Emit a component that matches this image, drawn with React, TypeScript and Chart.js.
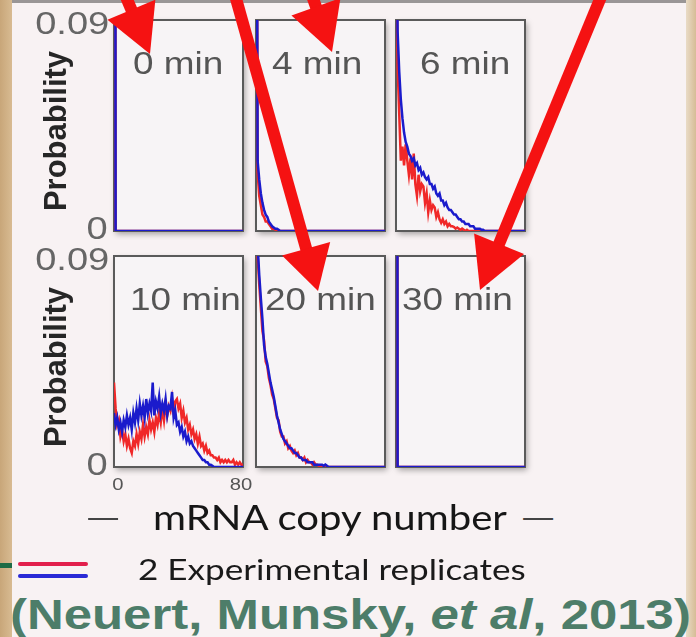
import React, { useEffect, useRef } from "react";
import { Chart, registerables } from "chart.js";

Chart.register(...registerables);

// ---------- data ----------
const panelTitles = ["0 min", "4 min", "6 min", "10 min", "20 min", "30 min"];
const yTickLabels = ["0", "0.09"];
const xTickLabels = ["0", "80"];
const yAxisTitle = "Probability";
const xAxisTitle = "mRNA copy number";
const legendLabel = "2 Experimental replicates";
const yMax = 0.09;
const xMax = 80;

// probability at copy number 0,1,2,... (blue = replicate 1, red = replicate 2)
const blue0min = [0.9, 0];
const red0min = [0.9, 0];

const blue4min = [0.3, 0.03, 0.022, 0.016, 0.012, 0.009, 0.007, 0.006, 0.004, 0.003, 0.002, 0.0015, 0.001, 0.001, 0.0005, 0];
const red4min = [0.3, 0.025, 0.015, 0.011, 0.007, 0.006, 0.004, 0.004, 0.003, 0.002, 0.001, 0.001, 0.0005, 0];

const blue6min = [0.15, 0.085, 0.068, 0.056, 0.048, 0.042, 0.038, 0.036, 0.033, 0.032, 0.03, 0.031, 0.028, 0.029, 0.026, 0.027, 0.024, 0.025, 0.023, 0.022, 0.023, 0.02, 0.02, 0.018, 0.019, 0.016, 0.015, 0.016, 0.013, 0.013, 0.011, 0.012, 0.01, 0.009, 0.009, 0.008, 0.007, 0.007, 0.006, 0.005, 0.005, 0.004, 0.004, 0.003, 0.003, 0.003, 0.002, 0.002, 0.002, 0.001, 0.001, 0.001, 0.001, 0.0005, 0.0005, 0];
const red6min = [0.15, 0.07, 0.05, 0.03, 0.036, 0.028, 0.037, 0.03, 0.024, 0.031, 0.022, 0.033, 0.02, 0.015, 0.024, 0.017, 0.02, 0.019, 0.012, 0.016, 0.008, 0.013, 0.009, 0.011, 0.01, 0.006, 0.008, 0.005, 0.0035, 0.005, 0.003, 0.004, 0.002, 0.003, 0.002, 0.002, 0.0017, 0.001, 0.0015, 0.001, 0.0005, 0.001, 0.0005, 0, 0.0005, 0];

const blue10min = [0.023, 0.018, 0.021, 0.016, 0.019, 0.015, 0.02, 0.017, 0.022, 0.018, 0.021, 0.016, 0.023, 0.019, 0.025, 0.02, 0.027, 0.022, 0.026, 0.021, 0.029, 0.023, 0.027, 0.024, 0.036, 0.022, 0.028, 0.025, 0.03, 0.023, 0.027, 0.024, 0.029, 0.022, 0.026, 0.025, 0.032, 0.021, 0.024, 0.018, 0.019, 0.015, 0.017, 0.013, 0.015, 0.011, 0.013, 0.01, 0.011, 0.009, 0.008, 0.007, 0.006, 0.005, 0.004, 0.003, 0.003, 0.002, 0.002, 0.001, 0.001, 0.0005, 0];
const red10min = [0.036, 0.025, 0.018, 0.02, 0.013, 0.016, 0.011, 0.014, 0.009, 0.012, 0.008, 0.006, 0.011, 0.009, 0.014, 0.01, 0.015, 0.012, 0.018, 0.013, 0.017, 0.014, 0.02, 0.016, 0.019, 0.015, 0.021, 0.018, 0.023, 0.019, 0.025, 0.02, 0.027, 0.022, 0.026, 0.024, 0.029, 0.023, 0.028, 0.029, 0.025, 0.027, 0.021, 0.024, 0.019, 0.021, 0.016, 0.018, 0.014, 0.016, 0.012, 0.014, 0.01, 0.013, 0.009, 0.01, 0.007, 0.009, 0.006, 0.007, 0.005, 0.005, 0.004, 0.004, 0.003, 0.004, 0.002, 0.003, 0.002, 0.003, 0.002, 0.003, 0.002, 0.002, 0.003, 0.001, 0.002, 0.001, 0.002, 0.001, 0.001];

const blue20min = [0.15, 0.095, 0.082, 0.072, 0.063, 0.052, 0.047, 0.044, 0.04, 0.036, 0.033, 0.03, 0.026, 0.022, 0.019, 0.016, 0.014, 0.012, 0.011, 0.01, 0.009, 0.008, 0.008, 0.007, 0.006, 0.006, 0.005, 0.004, 0.004, 0.003, 0.003, 0.003, 0.002, 0.002, 0.002, 0.002, 0.001, 0.001, 0.001, 0.001, 0.001, 0.001, 0.0005, 0.001, 0.0005, 0];
const red20min = [0.15, 0.09, 0.078, 0.068, 0.058, 0.054, 0.045, 0.043, 0.038, 0.035, 0.031, 0.029, 0.025, 0.021, 0.02, 0.015, 0.013, 0.013, 0.01, 0.011, 0.008, 0.009, 0.007, 0.006, 0.007, 0.005, 0.006, 0.004, 0.004, 0.003, 0.004, 0.002, 0.003, 0.002, 0.002, 0.001, 0.002, 0.001, 0.001, 0.0005, 0];

const blue30min = [0.9, 0];
const red30min = [0.9, 0];

const blueSeries = [blue0min, blue4min, blue6min, blue10min, blue20min, blue30min];
const redSeries = [red0min, red4min, red6min, red10min, red20min, red30min];

// ---------- styles ----------
const BLUE = "#1b1bcc";
const RED = "#f02828";
const FRAME = "#5a5a5a";
const PANEL_BG = "#f7f4f6";
const PAD = 9;
const SX = 1.19;

const colX = [114, 256, 396];
const rowY = [20, 256];
const PW = 129;
const PH = 211;
const titleLeft = [133, 272, 420, 130, 265, 402];

const framePlugin = {
  id: "frame",
  beforeDatasetsDraw(chart: any) {
    const { ctx, chartArea: a } = chart;
    ctx.save();
    ctx.shadowColor = "rgba(0,0,0,0.35)";
    ctx.shadowBlur = 6;
    ctx.shadowOffsetX = 2;
    ctx.shadowOffsetY = 3;
    ctx.fillStyle = PANEL_BG;
    ctx.fillRect(a.left, a.top, a.right - a.left, a.bottom - a.top);
    ctx.restore();
    ctx.save();
    ctx.strokeStyle = FRAME;
    ctx.lineWidth = 2;
    ctx.strokeRect(a.left, a.top, a.right - a.left, a.bottom - a.top);
    ctx.restore();
  },
};

function toPoints(arr: number[]) {
  const pts = arr.map((y, i) => ({ x: i, y }));
  if (arr.length - 1 < xMax) pts.push({ x: xMax, y: 0 });
  return pts;
}

function Panel({ left, top, blue, red }: { left: number; top: number; blue: number[]; red: number[] }) {
  const ref = useRef<HTMLCanvasElement>(null);
  useEffect(() => {
    const chart = new Chart(ref.current as HTMLCanvasElement, {
      type: "line",
      data: {
        datasets: [
          { label: "Replicate 1", data: toPoints(blue), borderColor: BLUE, borderWidth: 2.5, pointRadius: 0, tension: 0 },
          { label: "Replicate 2", data: toPoints(red), borderColor: RED, borderWidth: 2.5, pointRadius: 0, tension: 0 },
        ],
      },
      options: {
        responsive: false,
        animation: false,
        events: [],
        layout: { padding: PAD },
        plugins: { legend: { display: false }, tooltip: { enabled: false } },
        scales: {
          x: { type: "linear", min: 0, max: xMax, display: false },
          y: { type: "linear", min: 0, max: yMax, display: false },
        },
      },
      plugins: [framePlugin],
    } as any);
    return () => chart.destroy();
  }, []);
  return (
    <canvas
      ref={ref}
      width={PW + 2 * PAD}
      height={PH + 2 * PAD}
      style={{ position: "absolute", left: left - PAD, top: top - PAD, zIndex: 2 }}
    />
  );
}

type TProps = {
  x: number;
  y: number;
  anchor?: "left" | "right" | "center";
  size: number;
  color: string;
  weight?: number | string;
  family?: string;
  sx?: number;
  children: React.ReactNode;
};

function T({ x, y, anchor = "left", size, color, weight = 400, family = "'Liberation Sans', Arial, sans-serif", sx = SX, children }: TProps) {
  const style: React.CSSProperties = {
    position: "absolute",
    top: y,
    fontSize: size,
    lineHeight: 1,
    color,
    fontWeight: weight as any,
    fontFamily: family,
    whiteSpace: "nowrap",
    zIndex: 3,
  };
  if (anchor === "left") {
    style.left = x;
    style.transformOrigin = "left center";
    style.transform = `translate(0,-50%) scaleX(${sx})`;
  } else if (anchor === "right") {
    style.right = 696 - x;
    style.transformOrigin = "right center";
    style.transform = `translate(0,-50%) scaleX(${sx})`;
  } else {
    style.left = x;
    style.transformOrigin = "center center";
    style.transform = `translate(-50%,-50%) scaleX(${sx})`;
  }
  return <div style={style}>{children}</div>;
}

// arrows (annotation overlay): start point, tip, head length, head width
const arrows = [
  { sx: 92, sy: -84, tx: 150, ty: 54, hl: 48, hw: 52 },
  { sx: 228, sy: -30, tx: 318, ty: 291, hl: 44, hw: 50 },
  { sx: 282, sy: -89, tx: 332, ty: 52, hl: 48, hw: 52 },
  { sx: 610, sy: -25, tx: 480, ty: 290, hl: 50, hw: 54 },
];

function Arrow({ a }: { a: (typeof arrows)[number] }) {
  const dx = a.tx - a.sx;
  const dy = a.ty - a.sy;
  const len = Math.hypot(dx, dy);
  const ux = dx / len;
  const uy = dy / len;
  const bx = a.tx - ux * a.hl;
  const by = a.ty - uy * a.hl;
  const px = -uy * (a.hw / 2);
  const py = ux * (a.hw / 2);
  const pts = `${a.tx},${a.ty} ${bx + px},${by + py} ${bx - px},${by - py}`;
  return (
    <g>
      <line x1={a.sx} y1={a.sy} x2={bx + ux * 4} y2={by + uy * 4} stroke="#f51212" strokeWidth={12} />
      <polygon points={pts} fill="#f51212" />
    </g>
  );
}

export default function App() {
  const panels = [0, 1, 2, 3, 4, 5].map((i) => ({
    left: colX[i % 3],
    top: rowY[Math.floor(i / 3)],
    title: panelTitles[i],
    blue: blueSeries[i],
    red: redSeries[i],
  }));
  return (
    <div
      style={{
        position: "fixed",
        left: 0,
        top: 0,
        width: 696,
        height: 637,
        overflow: "hidden",
        background: "#f8f2f3",
      }}
    >
      {/* slide edges */}
      <div style={{ position: "absolute", left: 0, top: 0, width: 12, height: 637, background: "linear-gradient(90deg,#c8a679,#d8bb92)" }} />
      <div style={{ position: "absolute", left: 686, top: 0, width: 10, height: 637, background: "linear-gradient(90deg,#e9dbc6,#d6bc96)" }} />
      <div style={{ position: "absolute", left: 12, top: 0, width: 674, height: 3, background: "#9a9696" }} />

      {panels.map((p, i) => (
        <Panel key={i} left={p.left} top={p.top} blue={p.blue} red={p.red} />
      ))}

      {panels.map((p, i) => (
        <T key={"t" + i} x={titleLeft[i]} y={p.top + 43} size={31} color="#555">
          {p.title}
        </T>
      ))}

      {rowY.map((ry, r) => (
        <React.Fragment key={"y" + r}>
          <T x={109} y={ry + 3} anchor="right" size={32} color="#666">
            {yTickLabels[1]}
          </T>
          <T x={108} y={ry + PH - 3} anchor="right" size={32} color="#666">
            {yTickLabels[0]}
          </T>
          <div
            style={{
              position: "absolute",
              left: 55,
              top: ry + 111,
              transform: "translate(-50%,-50%) rotate(-90deg)",
              fontFamily: "'Liberation Sans', Arial, sans-serif",
              fontWeight: 700,
              fontSize: 31,
              lineHeight: 1,
              color: "#262626",
              whiteSpace: "nowrap",
              zIndex: 3,
            }}
          >
            {yAxisTitle}
          </div>
        </React.Fragment>
      ))}

      <T x={118} y={484} anchor="center" size={17} color="#555">
        {xTickLabels[0]}
      </T>
      <T x={241} y={484} anchor="center" size={17} color="#555">
        {xTickLabels[1]}
      </T>

      <T x={103} y={516} anchor="center" size={30} color="#444" family="Lato, sans-serif" sx={1.5}>
        —
      </T>
      <T x={538} y={516} anchor="center" size={30} color="#444" family="Lato, sans-serif" sx={1.5}>
        —
      </T>
      <T x={330} y={517} anchor="center" size={34} color="#161616" family="Lato, sans-serif" sx={1.18}>
        {xAxisTitle}
      </T>

      {/* legend */}
      <div style={{ position: "absolute", left: 0, top: 563, width: 12, height: 5, background: "#1d6b45" }} />
      <div style={{ position: "absolute", left: 18, top: 562, width: 70, height: 4, background: "#e2204c", borderRadius: 2 }} />
      <div style={{ position: "absolute", left: 18, top: 574, width: 70, height: 4, background: "#2a2ad6", borderRadius: 2 }} />
      <T x={138} y={568} size={29} color="#1a1a1a" family="Lato, sans-serif" sx={1.21}>
        {legendLabel}
      </T>

      <T x={10} y={615} size={42} color="#4d7d69" weight={700} sx={1.212}>
        (Neuert, Munsky, <i>et al</i>, 2013)
      </T>

      <svg width={696} height={637} style={{ position: "absolute", left: 0, top: 0, zIndex: 5, pointerEvents: "none" }}>
        {arrows.map((a, i) => (
          <Arrow key={i} a={a} />
        ))}
      </svg>
    </div>
  );
}
